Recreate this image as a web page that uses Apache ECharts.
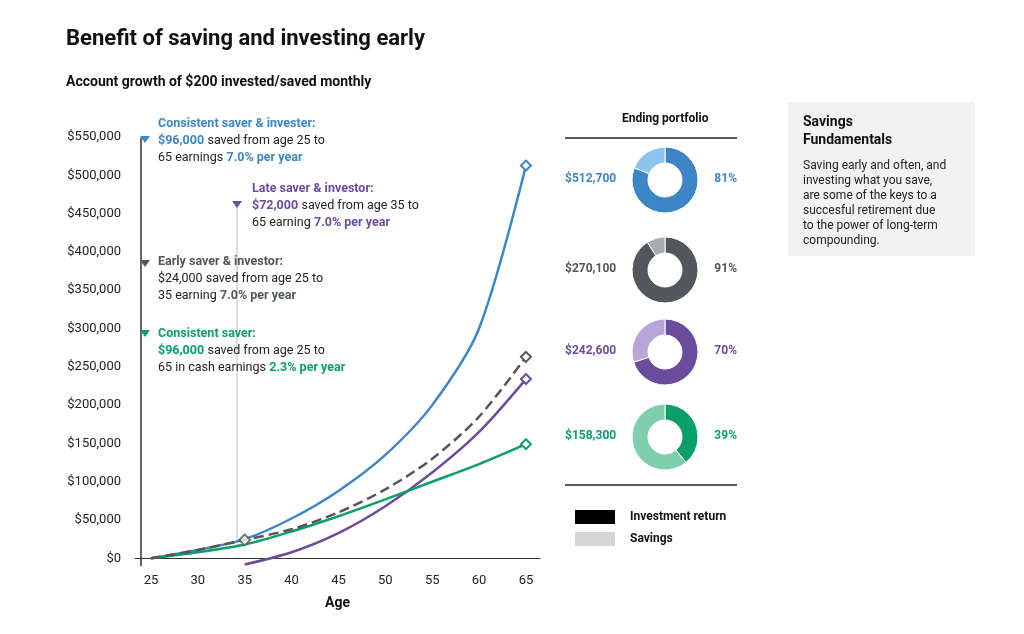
<!DOCTYPE html>
<html><head><meta charset="utf-8">
<script src="https://cdn.jsdelivr.net/npm/echarts@6/dist/echarts.min.js"></script>
<style>html,body{margin:0;background:#fff}#main{width:1024px;height:634px}</style>
</head><body><div id="main"></div>
<script>
// 数据
let ages = [25, 30, 35, 40, 45, 50, 55, 60, 65];
let ageTicks = [25, 30, 35, 40, 45, 50, 55, 60, 65];
let consistentInvestor = [0, 11000, 25000, 52000, 88000, 135000, 200000, 300000, 512700];
let earlyInvestor = [0, 11000, 24000, 38000, 60000, 90000, 130000, 185000, 263000];
let lateInvestor = [null, null, -8000, 8000, 33000, 68000, 112000, 165000, 234000];
let cashSaver = [0, 8000, 18000, 35000, 55000, 77000, 100000, 123000, 149000];
let portfolioNames = ['$512,700', '$270,100', '$242,600', '$158,300'];
let investPct = [81, 91, 70, 39];
let mainColors = ['#3d86c6', '#51575a', '#6a4c9c', '#0a9e6a'];
let lightColors = ['#8cc4ec', '#a9abac', '#b8a6d8', '#7fcfae'];

let chart = echarts.init(document.getElementById('main'));
let font = 'Roboto';

function line(name, data, color, dashed) {
    let d = data.map((v, i) => [ages[i], v]);
    return {
        type: 'line', name: name, data: d, smooth: 0.3,
        lineStyle: {width: 2.5, color: color, type: dashed ? 'dashed' : 'solid'},
        symbolSize: 10,
        itemStyle: {color: '#fff', borderColor: color, borderWidth: 2},
        symbol: (v, p) => (p.dataIndex === data.length - 1 ? 'diamond' : 'none'),
        z: dashed ? 3 : 2
    };
}

let pies = investPct.map((p, i) => ({
    type: 'pie', radius: [17, 33], center: [665, [180, 270, 352, 437][i]],
    silent: true, label: {show: false}, startAngle: 90,
    itemStyle: {borderColor: '#fff', borderWidth: 1},
    data: [
        {value: p, itemStyle: {color: mainColors[i]}},
        {value: 100 - p, itemStyle: {color: lightColors[i]}}
    ]
}));

function note(x, y, color, lines) {
    return {
        type: 'text', left: x, top: y,
        style: {text: lines, lineHeight: 17,
            rich: {h: {fill: color, fontWeight: 'bold', fontSize: 12.5, fontFamily: font},
                   n: {fill: '#222', fontSize: 12.5, fontFamily: font}}}
    };
}
function tri(x, y, color) {
    return {type: 'polygon', shape: {points: [[x - 5, y - 3], [x + 5, y - 3], [x, y + 4]]}, style: {fill: color}};
}

let labelRows = [180, 270, 352, 437];
let graphics = [
    {type: 'text', left: 66, top: 28, style: {text: 'Benefit of saving and investing early', font: 'bold 22px Roboto', fill: '#111'}},
    {type: 'text', left: 66, top: 75, style: {text: 'Account growth of $200 invested/saved monthly', font: 'bold 14px Roboto', fill: '#111'}},
    {type: 'line', shape: {x1: 141, y1: 138, x2: 141, y2: 566}, style: {stroke: '#333', lineWidth: 1.5}},
    {type: 'line', shape: {x1: 237, y1: 205, x2: 237, y2: 540}, style: {stroke: '#ddd', lineWidth: 2}},
    tri(145, 139, mainColors[0]), tri(237, 204, mainColors[2]), tri(145, 263, mainColors[1]), tri(145, 333, mainColors[3]),
    note(158, 115, mainColors[0], '{h|Consistent saver & invester:}\n{h|$96,000} {n|saved from age 25 to}\n{n|65 earnings} {h|7.0% per year}'),
    note(252, 180, mainColors[2], '{h|Late saver & investor:}\n{h|$72,000} {n|saved from age 35 to}\n{n|65 earning} {h|7.0% per year}'),
    note(158, 253, mainColors[1], '{h|Early saver & investor:}\n{n|$24,000 saved from age 25 to}\n{n|35 earning} {h|7.0% per year}'),
    note(158, 325, mainColors[3], '{h|Consistent saver:}\n{h|$96,000} {n|saved from age 25 to}\n{n|65 in cash earnings} {h|2.3% per year}'),
    {type: 'text', left: 622, top: 113, style: {text: 'Ending portfolio', font: 'bold 12px Roboto', fill: '#111'}},
    {type: 'line', shape: {x1: 565, y1: 138, x2: 737, y2: 138}, style: {stroke: '#222', lineWidth: 1.5}},
    {type: 'line', shape: {x1: 565, y1: 485, x2: 737, y2: 485}, style: {stroke: '#222', lineWidth: 1.5}},
    {type: 'rect', shape: {x: 575, y: 510, width: 40, height: 14}, style: {fill: '#000'}},
    {type: 'rect', shape: {x: 575, y: 532, width: 40, height: 14}, style: {fill: '#d5d5d5'}},
    {type: 'text', left: 630, top: 511, style: {text: 'Investment return', font: 'bold 12px Roboto', fill: '#111'}},
    {type: 'text', left: 630, top: 533, style: {text: 'Savings', font: 'bold 12px Roboto', fill: '#111'}},
    {type: 'rect', shape: {x: 788, y: 102, width: 187, height: 154}, style: {fill: '#f2f2f2'}},
    {type: 'text', left: 803, top: 113, style: {text: 'Savings\nFundamentals', font: 'bold 14px Roboto', fill: '#111', lineHeight: 18}},
    {type: 'text', left: 803, top: 158, style: {text: 'Saving early and often, and\ninvesting what you save,\nare some of the keys to a\nsuccesful retirement due\nto the power of long-term\ncompounding.', font: '12px Roboto', fill: '#222', lineHeight: 15}}
];
portfolioNames.forEach((n, i) => {
    graphics.push({type: 'text', left: 565, top: labelRows[i] - 7, style: {text: n, font: 'bold 12px Roboto', fill: i === 1 ? '#555' : mainColors[i]}});
    graphics.push({type: 'text', right: 1024 - 737, top: labelRows[i] - 7, style: {text: investPct[i] + '%', font: 'bold 12px Roboto', fill: i === 1 ? '#555' : mainColors[i], align: 'right'}});
});

let option = {
    animation: false,
    textStyle: {fontFamily: font},
    grid: {left: 135, right: 484, top: 137, bottom: 68},
    xAxis: {
        type: 'value', min: 23.3, max: 66.5, name: 'Age', nameLocation: 'middle', nameGap: 30,
        nameTextStyle: {fontWeight: 'bold', fontSize: 14, color: '#111'},
        axisLine: {lineStyle: {color: '#333'}}, axisTick: {show: false},
        axisLabel: {customValues: ageTicks, color: '#222', fontSize: 13},
        splitLine: {show: false}
    },
    yAxis: {
        type: 'value', min: -10000, max: 550000, interval: 50000,
        axisLine: {show: false}, axisTick: {show: false}, splitLine: {show: false},
        axisLabel: {customValues: [0,50000,100000,150000,200000,250000,300000,350000,400000,450000,500000,550000],
            color: '#222', fontSize: 13, margin: 14,
            formatter: v => '$' + v.toLocaleString('en-US')}
    },
    series: [
        line('Consistent saver & invester', consistentInvestor, mainColors[0]),
        line('Early saver & investor', earlyInvestor, '#555', true),
        line('Late saver & investor', lateInvestor, mainColors[2]),
        line('Consistent saver', cashSaver, mainColors[3]),
        {type: 'scatter', data: [[35, 24000]], symbol: 'diamond', symbolSize: 11,
         itemStyle: {color: '#fff', borderColor: '#555', borderWidth: 2}, z: 5}
    ].concat(pies),
    graphic: graphics
};
chart.setOption(option);
</script></body></html>
